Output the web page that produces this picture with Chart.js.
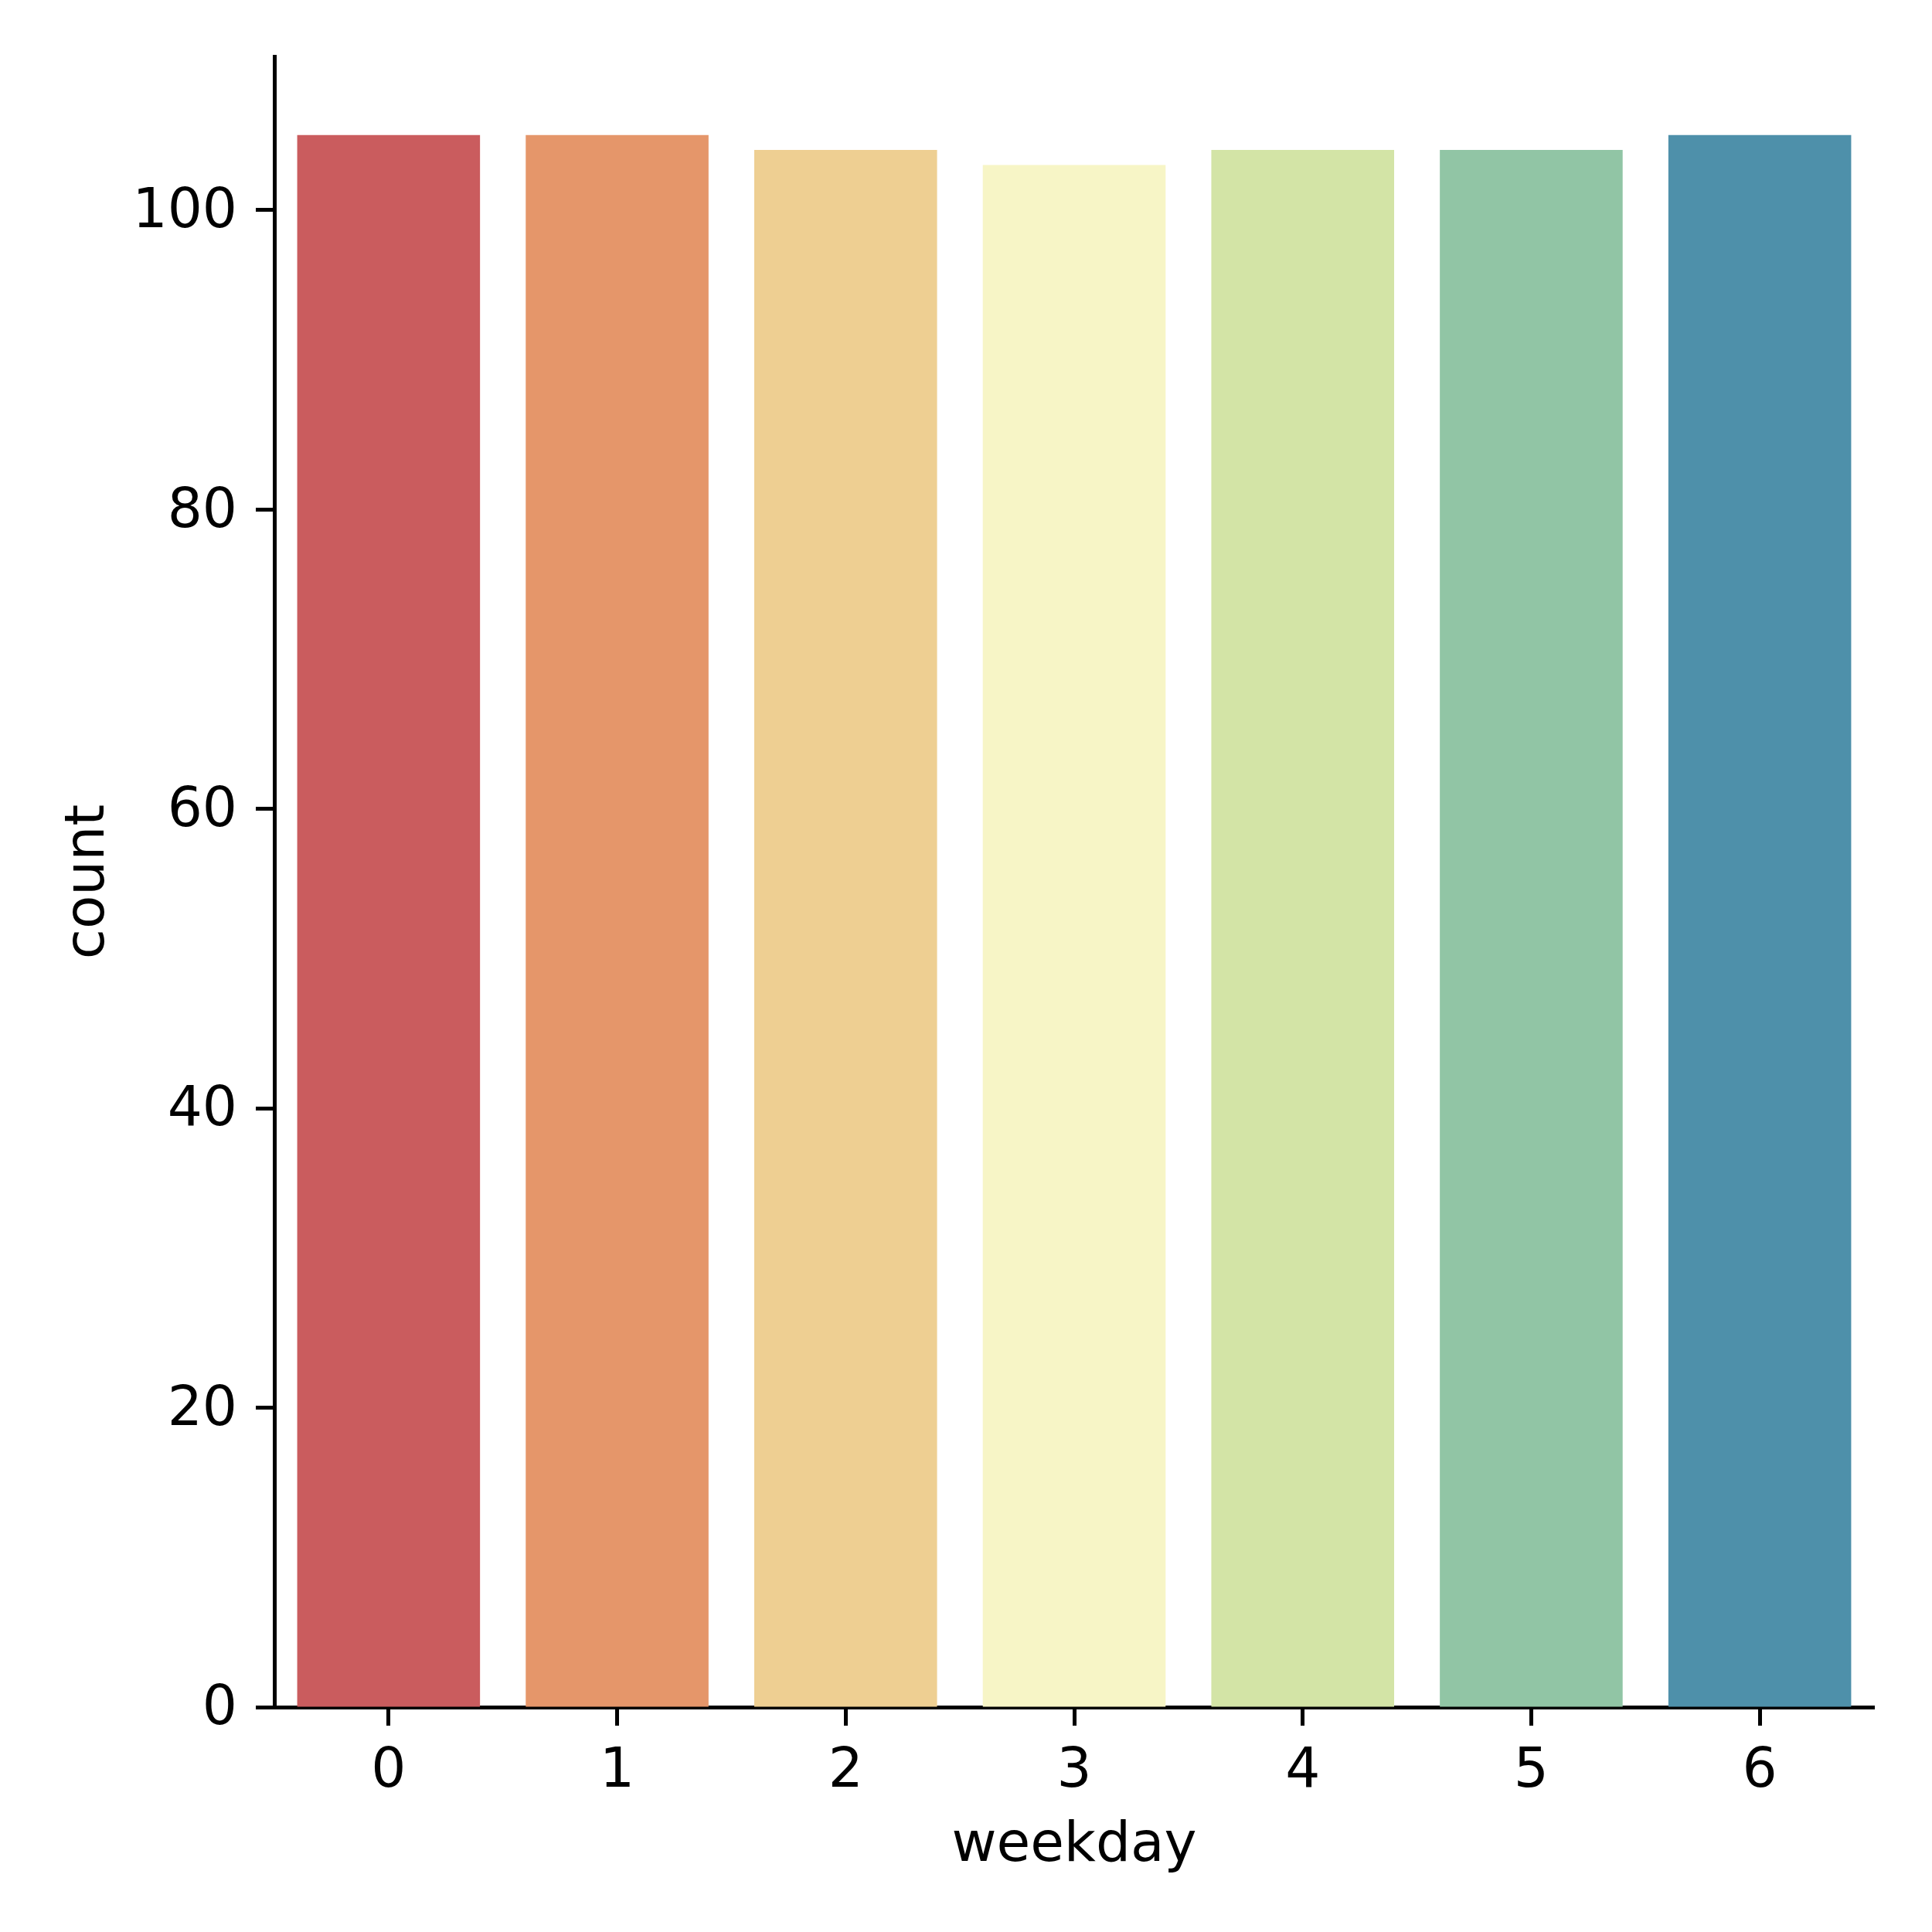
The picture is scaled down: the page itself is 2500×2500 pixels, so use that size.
<!DOCTYPE html>
<html>
<head>
<meta charset="utf-8">
<title>count by weekday</title>
<script src="https://cdn.jsdelivr.net/npm/chart.js@4"></script>
<style>
  html, body { margin: 0; padding: 0; background: #fff; }
  #wrap { width: 2500px; height: 2500px; }
</style>
</head>
<body>
<div id="wrap"><canvas id="weekdayChart" width="2500" height="2500"></canvas></div>
<script>
// data
const weekdays = ["0", "1", "2", "3", "4", "5", "6"];
const counts = [105, 105, 104, 103, 104, 104, 105];
const barColors = ["#ca5c5e", "#e5966a", "#eecf92", "#f7f5c6", "#d3e4a6", "#91c5a5", "#4e90aa"];
const yMax = 110.25;
const yStep = 20;

const tickFont = { family: "DejaVu Sans", size: 71 };
const labelFont = { family: "DejaVu Sans", size: 71 };

document.addEventListener("DOMContentLoaded", function () {
    const ctx = document.getElementById("weekdayChart").getContext("2d");

    new Chart(ctx, {
        type: "bar",
        data: {
            labels: weekdays,
            datasets: [{
                label: "count",
                data: counts,
                backgroundColor: barColors,
                borderWidth: 0,
                barPercentage: 0.8,
                categoryPercentage: 1.0
            }]
        },
        options: {
            responsive: false,
            animation: false,
            devicePixelRatio: 1,
            layout: { padding: { top: 73, right: 75, left: 0, bottom: 0 } },
            plugins: {
                legend: { display: false },
                tooltip: { enabled: false }
            },
            scales: {
                x: {
                    offset: true,
                    grid: {
                        offset: false,
                        drawOnChartArea: false,
                        drawTicks: true,
                        tickLength: 24,
                        tickWidth: 5,
                        tickColor: "#000"
                    },
                    border: { display: true, color: "#000", width: 5 },
                    ticks: { color: "#000", font: tickFont, padding: 18, maxRotation: 0 },
                    title: {
                        display: true,
                        text: "weekday",
                        color: "#000",
                        font: labelFont,
                        padding: { top: 0, bottom: 68 }
                    },
                    afterFit: function (scale) { scale.height = 291; }
                },
                y: {
                    min: 0,
                    max: yMax,
                    grid: {
                        drawOnChartArea: false,
                        drawTicks: true,
                        tickLength: 24,
                        tickWidth: 5,
                        tickColor: "#000"
                    },
                    border: { display: true, color: "#000", width: 5 },
                    ticks: {
                        stepSize: yStep,
                        includeBounds: false,
                        color: "#000",
                        font: tickFont,
                        padding: 24,
                        labelOffset: 4
                    },
                    title: {
                        display: true,
                        text: "count",
                        color: "#000",
                        font: labelFont,
                        padding: { top: 73, bottom: 0 }
                    },
                    afterFit: function (scale) { scale.width = 355; }
                }
            }
        }
    });
});
</script>
</body>
</html>
